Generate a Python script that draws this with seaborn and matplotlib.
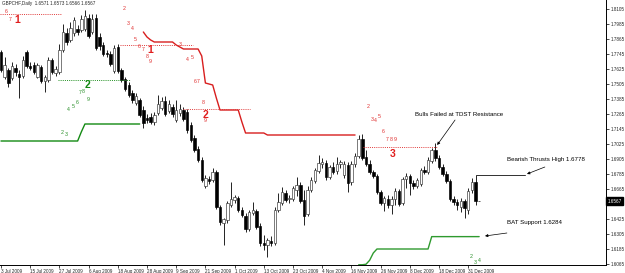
import matplotlib
matplotlib.use("Agg")
import matplotlib.pyplot as plt
import seaborn as sns
import pandas as pd
import numpy as np

sns.set_style("white")
plt.rcParams['font.family'] = ['Liberation Sans', 'DejaVu Sans']

# ---------------- data ----------------
opens = [
    1.7761, 1.7561, 1.7617, 1.7553, 1.7633, 1.7585, 1.7569, 1.7761, 1.7649, 1.7657,
    1.7561, 1.7641, 1.7529, 1.7537, 1.7697, 1.7593, 1.7601, 1.7777, 1.7913, 1.7857,
    1.7913, 1.7945, 1.7937, 1.7945, 1.8033, 1.7921, 1.8033, 1.7881, 1.7817, 1.7753,
    1.7745, 1.7609, 1.7801, 1.7617, 1.7545, 1.7497, 1.7433, 1.7353, 1.7377, 1.7297,
    1.7233, 1.7241, 1.7201, 1.7273, 1.7313, 1.7369, 1.7289, 1.7321, 1.7217, 1.7273,
    1.7297, 1.7281, 1.7177, 1.7073, 1.6985, 1.6897, 1.6689, 1.6745, 1.6737, 1.6801,
    1.6521, 1.6393, 1.6417, 1.6537, 1.6577, 1.6593, 1.6497, 1.6449, 1.6345, 1.6473,
    1.6489, 1.6369, 1.6233, 1.6217, 1.6249, 1.6233, 1.6497, 1.6553, 1.6633, 1.6585,
    1.6585, 1.6657, 1.6697, 1.6577, 1.6465, 1.6657, 1.6729, 1.6809, 1.6865, 1.6873,
    1.6761, 1.6841, 1.6809, 1.6865, 1.6777, 1.6857, 1.6721, 1.6865, 1.6929, 1.7065,
    1.6921, 1.6865, 1.6801, 1.6769, 1.6641, 1.6553, 1.6585, 1.6537, 1.6585, 1.6649,
    1.6553, 1.6745, 1.6769, 1.6713, 1.6689, 1.6705, 1.6817, 1.6801, 1.6889, 1.6977,
    1.6913, 1.6841, 1.6785, 1.6729, 1.6585, 1.6561, 1.6521, 1.6569, 1.6497, 1.6657,
    1.6721, 1.6571]
highs = [
    1.7777, 1.7721, 1.7633, 1.7681, 1.7665, 1.7617, 1.7729, 1.7777, 1.7681, 1.7681,
    1.7673, 1.7657, 1.7577, 1.7721, 1.7713, 1.7649, 1.7825, 1.7985, 1.7953, 1.8001,
    1.8041, 1.7977, 1.8057, 1.8097, 1.8065, 1.8065, 1.8065, 1.7913, 1.7841, 1.7777,
    1.7769, 1.7817, 1.7825, 1.7633, 1.7561, 1.7521, 1.7457, 1.7433, 1.7393, 1.7329,
    1.7265, 1.7273, 1.7281, 1.7417, 1.7401, 1.7409, 1.7377, 1.7345, 1.7377, 1.7345,
    1.7321, 1.7305, 1.7201, 1.7097, 1.7009, 1.6921, 1.6777, 1.6769, 1.6833, 1.6817,
    1.6537, 1.6433, 1.6569, 1.6721, 1.6617, 1.6609, 1.6521, 1.6473, 1.6497, 1.6561,
    1.6505, 1.6393, 1.6297, 1.6273, 1.6289, 1.6521, 1.6633, 1.6681, 1.6657, 1.6617,
    1.6689, 1.6761, 1.6721, 1.6657, 1.6689, 1.6761, 1.6833, 1.6937, 1.6913, 1.6897,
    1.6857, 1.6881, 1.6921, 1.6897, 1.6889, 1.6881, 1.6889, 1.6953, 1.7097, 1.7105,
    1.6977, 1.6897, 1.6817, 1.6785, 1.6657, 1.6609, 1.6617, 1.6609, 1.6673, 1.6665,
    1.6761, 1.6793, 1.6785, 1.6737, 1.6753, 1.6833, 1.6849, 1.6921, 1.6993, 1.7033,
    1.6937, 1.6865, 1.6809, 1.6745, 1.6609, 1.6585, 1.6593, 1.6585, 1.6673, 1.6753,
    1.6778, 1.6573]
lows = [
    1.7601, 1.7545, 1.7481, 1.7537, 1.7569, 1.7393, 1.7553, 1.7633, 1.7617, 1.7585,
    1.7553, 1.7513, 1.7441, 1.7521, 1.7585, 1.7569, 1.7585, 1.7761, 1.7817, 1.7841,
    1.7889, 1.7897, 1.7921, 1.7929, 1.7873, 1.7905, 1.7777, 1.7777, 1.7729, 1.7721,
    1.7649, 1.7593, 1.7593, 1.7521, 1.7449, 1.7401, 1.7353, 1.7337, 1.7241, 1.7153,
    1.7193, 1.7185, 1.7177, 1.7257, 1.7297, 1.7249, 1.7273, 1.7241, 1.7201, 1.7249,
    1.7209, 1.7113, 1.7041, 1.6961, 1.6881, 1.6721, 1.6673, 1.6705, 1.6721, 1.6505,
    1.6377, 1.6217, 1.6393, 1.6521, 1.6553, 1.6481, 1.6441, 1.6321, 1.6329, 1.6457,
    1.6345, 1.6209, 1.6177, 1.6121, 1.6209, 1.6217, 1.6481, 1.6537, 1.6561, 1.6553,
    1.6569, 1.6609, 1.6553, 1.6377, 1.6449, 1.6641, 1.6713, 1.6793, 1.6833, 1.6737,
    1.6745, 1.6785, 1.6785, 1.6833, 1.6753, 1.6641, 1.6697, 1.6841, 1.6913, 1.6897,
    1.6849, 1.6785, 1.6753, 1.6625, 1.6537, 1.6489, 1.6513, 1.6465, 1.6537, 1.6529,
    1.6537, 1.6673, 1.6617, 1.6665, 1.6673, 1.6689, 1.6785, 1.6785, 1.6873, 1.6889,
    1.6825, 1.6769, 1.6713, 1.6569, 1.6537, 1.6497, 1.6481, 1.6433, 1.6465, 1.6633,
    1.6537, 1.6566]
closes = [
    1.7617, 1.7657, 1.7513, 1.7649, 1.7601, 1.7561, 1.7697, 1.7649, 1.7633, 1.7601,
    1.7657, 1.7529, 1.7561, 1.7697, 1.7601, 1.7625, 1.7777, 1.7921, 1.7841, 1.7953,
    1.8017, 1.7921, 1.8025, 1.8049, 1.7889, 1.8025, 1.7793, 1.7809, 1.7745, 1.7745,
    1.7665, 1.7793, 1.7609, 1.7537, 1.7465, 1.7417, 1.7377, 1.7409, 1.7257, 1.7193,
    1.7217, 1.7201, 1.7257, 1.7345, 1.7369, 1.7265, 1.7345, 1.7265, 1.7297, 1.7305,
    1.7225, 1.7137, 1.7057, 1.6977, 1.6897, 1.6737, 1.6753, 1.6729, 1.6801, 1.6521,
    1.6401, 1.6425, 1.6553, 1.6585, 1.6601, 1.6497, 1.6457, 1.6345, 1.6481, 1.6497,
    1.6361, 1.6233, 1.6217, 1.6257, 1.6233, 1.6497, 1.6561, 1.6641, 1.6577, 1.6593,
    1.6673, 1.6697, 1.6569, 1.6449, 1.6657, 1.6737, 1.6817, 1.6873, 1.6881, 1.6761,
    1.6841, 1.6801, 1.6865, 1.6881, 1.6865, 1.6713, 1.6865, 1.6929, 1.7065, 1.6913,
    1.6865, 1.6801, 1.6769, 1.6641, 1.6553, 1.6593, 1.6537, 1.6585, 1.6649, 1.6545,
    1.6745, 1.6769, 1.6713, 1.6689, 1.6737, 1.6817, 1.6801, 1.6897, 1.6977, 1.6913,
    1.6841, 1.6785, 1.6729, 1.6585, 1.6561, 1.6537, 1.6569, 1.6513, 1.6649, 1.6721,
    1.6569, 1.6567]

date_labels = ["3 Jul 2009", "15 Jul 2009", "27 Jul 2009", "6 Aug 2009", "18 Aug 2009",
               "28 Aug 2009", "9 Sep 2009", "21 Sep 2009", "1 Oct 2009", "13 Oct 2009",
               "23 Oct 2009", "4 Nov 2009", "16 Nov 2009", "26 Nov 2009", "8 Dec 2009",
               "18 Dec 2009", "31 Dec 2009"]
date_label_bars = [0, 8, 16, 24, 32, 40, 48, 56, 64, 72, 80, 88, 96, 104, 112, 120, 128]

price_ticks = [1.8105, 1.7985, 1.7865, 1.7745, 1.7625, 1.7505, 1.7385, 1.7265, 1.7145,
               1.7025, 1.6905, 1.6785, 1.6665, 1.6545, 1.6425, 1.6305, 1.6185, 1.6065]
# the 1.6545 label sits under the last-price box in the reference
price_tick_labels = ["1.8105", "1.7985", "1.7865", "1.7745", "1.7625", "1.7505", "1.7385",
                     "1.7265", "1.7145", "1.7025", "1.6905", "1.6785", "1.6665", "",
                     "1.6425", "1.6305", "1.6185", "1.6065"]

title_text = "GBPCHF,Daily  1.6571 1.6573 1.6566 1.6567"
last_price = 1.6567

# TDST resistance (red), bars 39..97
red_tdst_start = 39
red_tdst = [1.7921, 1.7881, 1.7857, 1.7841, 1.7841, 1.7841, 1.7841, 1.7841, 1.7841,
            1.7817, 1.7801, 1.7785, 1.7785, 1.7785, 1.7785, 1.7785, 1.7729, 1.7513,
            1.7505, 1.7497, 1.7393, 1.7297, 1.7297, 1.7297, 1.7297, 1.7297, 1.7297,
            1.7201, 1.7113, 1.7113, 1.7113, 1.7113, 1.7113, 1.7113, 1.7097, 1.7097,
            1.7097, 1.7097, 1.7097, 1.7097, 1.7097, 1.7097, 1.7097, 1.7097, 1.7097,
            1.7097, 1.7097, 1.7097, 1.7097, 1.7097, 1.7097, 1.7097, 1.7097, 1.7097,
            1.7097, 1.7097, 1.7097, 1.7097, 1.7097]
# TDST support (green), bars 0..38 and 98..131
green_tdst1_start = 0
green_tdst1 = [1.7049, 1.7049, 1.7049, 1.7049, 1.7049, 1.7049, 1.7049, 1.7049, 1.7049,
               1.7049, 1.7049, 1.7049, 1.7049, 1.7049, 1.7049, 1.7049, 1.7049, 1.7049,
               1.7049, 1.7049, 1.7049, 1.7049, 1.7121, 1.7185, 1.7185, 1.7185, 1.7185,
               1.7185, 1.7185, 1.7185, 1.7185, 1.7185, 1.7185, 1.7185, 1.7185, 1.7185,
               1.7185, 1.7185, 1.7185]
green_tdst2_start = 98
green_tdst2 = [1.6059, 1.6059, 1.6063, 1.6095, 1.6153, 1.6185, 1.6185, 1.6185, 1.6185,
               1.6185, 1.6185, 1.6185, 1.6185, 1.6185, 1.6185, 1.6185, 1.6185, 1.6185,
               1.6185, 1.6185, 1.6284, 1.6284, 1.6284, 1.6284, 1.6284, 1.6284, 1.6284,
               1.6284, 1.6284, 1.6284, 1.6284, 1.6284, 1.6284, 1.6284]

# setup level dotted lines
red_dot_price = [1.8065, 1.7817, 1.7305, 1.7001]
red_dot_from = [-0.3, 32.6, 49.9, 99.2]
red_dot_to = [16.7, 52.6, 68.2, 119.5]
green_dot_price = [1.7537]
green_dot_from = [15.6]
green_dot_to = [35.3]

# setup count labels
red_count_text = ["6", "7", "2", "3", "4", "5", "6", "7", "8", "9",
                  "3", "4", "5", "6", "7", "8", "9",
                  "2", "3", "4", "5", "6", "7", "8", "9"]
red_count_bar = [1.4, 2.5, 33.7, 34.8, 35.9, 36.7, 37.8, 38.9, 40.0, 40.8,
                 49.0, 51.0, 52.3, 53.2, 54.0, 55.3, 55.9,
                 100.5, 101.6, 102.7, 103.6, 104.7, 105.8, 106.8, 107.9]
red_count_price = [1.8089, 1.8025, 1.8113, 1.7993, 1.7953, 1.7857, 1.7801, 1.7777, 1.7729, 1.7681,
                   1.7825, 1.7705, 1.7713, 1.7529, 1.7529, 1.7353, 1.7209,
                   1.7321, 1.7225, 1.7209, 1.7241, 1.7121, 1.7057, 1.7057, 1.7057]
red_big_text = ["1", "1", "2", "3"]
red_big_bar = [4.4, 40.8, 55.9, 107.4]
red_big_price = [1.8017, 1.7777, 1.7257, 1.6945]

green_count_text = ["2", "3", "4", "5", "6", "7", "8", "9", "2", "3", "4"]
green_count_bar = [16.7, 17.8, 18.4, 19.7, 20.8, 21.6, 22.5, 23.8, 128.8, 129.9, 131.0]
green_count_price = [1.7113, 1.7097, 1.7297, 1.7321, 1.7353, 1.7433, 1.7449, 1.7377,
                     1.6121, 1.6073, 1.6097]
green_big_text = ["2"]
green_big_bar = [23.6]
green_big_price = [1.7497]

# annotations
note_text = ["Bulls Failed at TDST Resistance", "Bearish Thrusts High 1.6778", "BAT Support 1.6284"]
note_bar = [125.5, 138.6, 138.6]
note_price = [1.7265, 1.6905, 1.6393]
note_ha = ["center", "left", "left"]
arrow_from_bar = [124.4, 149.0, 138.6]
arrow_from_price = [1.7217, 1.6841, 1.6313]
arrow_to_bar = [119.5, 144.1, 132.6]
arrow_to_price = [1.7017, 1.6785, 1.6289]
thrust_level = 1.6778
thrust_from, thrust_to = 130, 143.6

# ---------------- figure ----------------
fig = plt.figure(figsize=(6.25, 2.73), dpi=100)
fig.patch.set_facecolor("white")
ax = fig.add_axes([0, 8 / 273, 606 / 625, 265 / 273])
ax.set_facecolor("white")

df = pd.DataFrame({"bar": np.arange(len(opens)), "open": opens, "high": highs,
                   "low": lows, "close": closes})
up = df[df.close >= df.open]
dn = df[df.close < df.open]

ax.vlines(df.bar, df.low, df.high, color="black", lw=0.6, zorder=2)
ax.bar(up.bar, (up.close - up.open).clip(lower=0.00015), bottom=up.open, width=0.68,
       facecolor="white", edgecolor="#303030", lw=0.45, zorder=3)
ax.bar(dn.bar, (dn.open - dn.close).clip(lower=0.00015), bottom=dn.close, width=0.68,
       facecolor="black", edgecolor="black", lw=0.45, zorder=3)

# indicator lines
red_x = np.arange(red_tdst_start, red_tdst_start + len(red_tdst))
sns.lineplot(x=red_x, y=red_tdst, ax=ax, color="#d81e1e", lw=1.0, zorder=4)
g1_x = np.arange(green_tdst1_start, green_tdst1_start + len(green_tdst1))
sns.lineplot(x=g1_x, y=green_tdst1, ax=ax, color="#138a13", lw=1.0, zorder=4)
g2_x = np.arange(green_tdst2_start, green_tdst2_start + len(green_tdst2))
sns.lineplot(x=g2_x, y=green_tdst2, ax=ax, color="#2f9a2f", lw=1.0, zorder=4)

for p, a, b in zip(red_dot_price, red_dot_from, red_dot_to):
    ax.plot([a, b], [p, p], color="#e03a3a", lw=0.7, ls=(0, (1, 1.2)), zorder=4)
for p, a, b in zip(green_dot_price, green_dot_from, green_dot_to):
    ax.plot([a, b], [p, p], color="#1f8f1f", lw=0.7, ls=(0, (1, 1.2)), zorder=4)

for t, b, p in zip(red_count_text, red_count_bar, red_count_price):
    ax.text(b, p, t, color="#e03030", fontsize=3.8, ha="center", va="center", zorder=5)
for t, b, p in zip(red_big_text, red_big_bar, red_big_price):
    ax.text(b, p, t, color="#e01e1e", fontsize=7.5, fontweight="bold", ha="center", va="center", zorder=5)
for t, b, p in zip(green_count_text, green_count_bar, green_count_price):
    ax.text(b, p, t, color="#2a8f2a", fontsize=3.8, ha="center", va="center", zorder=5)
for t, b, p in zip(green_big_text, green_big_bar, green_big_price):
    ax.text(b, p, t, color="#138a13", fontsize=7.5, fontweight="bold", ha="center", va="center", zorder=5)

ax.plot([thrust_from, thrust_to], [thrust_level, thrust_level], color="#303030", lw=0.7, zorder=4)
for t, b, p, ha in zip(note_text, note_bar, note_price, note_ha):
    ax.text(b, p, t, fontsize=4.4, ha=ha, va="center", color="black", zorder=6)
for fb, fp, tb, tp in zip(arrow_from_bar, arrow_from_price, arrow_to_bar, arrow_to_price):
    ax.annotate("", xy=(tb, tp), xytext=(fb, fp),
                arrowprops=dict(arrowstyle="-|>", color="black", lw=0.5,
                                mutation_scale=4, shrinkA=0, shrinkB=0), zorder=6)

# title and last price box
ax.text(0.003, 0.995, title_text, transform=ax.transAxes, fontsize=3.3, va="top", ha="left")
ax.text(1.003, last_price, f"{last_price:.4f}", transform=ax.get_yaxis_transform(),
        ha="left", va="center", fontsize=3.3, color="white", zorder=10, clip_on=False,
        bbox=dict(boxstyle="square,pad=0.3", fc="black", ec="black"))

# axes
ax.set_xlim(-0.27, 165.75)
ax.set_ylim(1.6057, 1.8177)
ax.yaxis.tick_right()
ax.set_yticks(price_ticks)
ax.set_yticklabels(price_tick_labels)
ax.set_xticks(date_label_bars)
ax.set_xticklabels(date_labels, ha="left")
ax.tick_params(axis="y", which="both", right=True, left=False, length=2, width=0.5,
               labelsize=3.3, pad=1.5, color="black")
ax.tick_params(axis="x", which="both", bottom=True, length=2, width=0.5,
               labelsize=3.3, pad=0.8, color="black")
for s in ["top", "left"]:
    ax.spines[s].set_visible(False)
for s in ["right", "bottom"]:
    ax.spines[s].set_visible(True)
    ax.spines[s].set_color("black")
    ax.spines[s].set_linewidth(0.7)
ax.set_xlabel("")
ax.set_ylabel("")
ax.grid(False)

fig.savefig("out.png", dpi=100, facecolor="white")
